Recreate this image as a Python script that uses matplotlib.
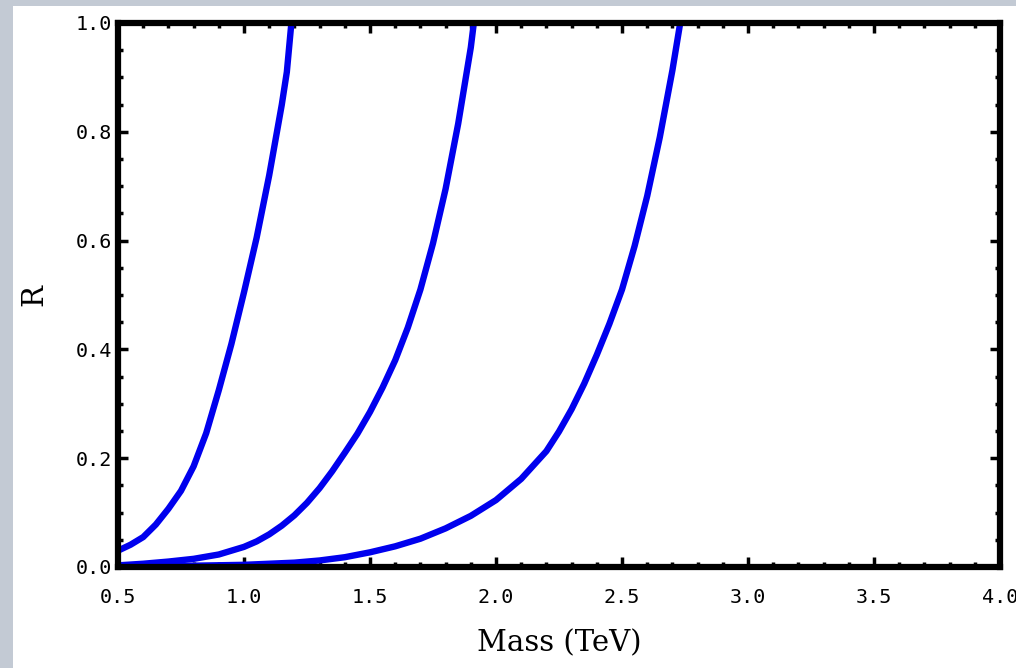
import numpy as np
import matplotlib.pyplot as plt
from matplotlib.patches import Rectangle
from matplotlib.ticker import MultipleLocator

# dados (massa em TeV, R)
m1 = [0.50, 0.55, 0.60, 0.65, 0.70, 0.75, 0.80, 0.85, 0.90, 0.95, 1.00,
      1.05, 1.10, 1.15, 1.17, 1.188]
r1 = [0.030, 0.041, 0.055, 0.078, 0.107, 0.140, 0.185, 0.246, 0.325, 0.410,
      0.505, 0.605, 0.720, 0.850, 0.910, 1.0]

m2 = [0.50, 0.60, 0.70, 0.80, 0.90, 1.00, 1.05, 1.10, 1.15, 1.20, 1.25, 1.30,
      1.35, 1.40, 1.45, 1.50, 1.55, 1.60, 1.65, 1.70, 1.75, 1.80, 1.85, 1.90,
      1.912]
r2 = [0.003, 0.006, 0.010, 0.015, 0.023, 0.037, 0.047, 0.060, 0.076, 0.095,
      0.118, 0.145, 0.176, 0.210, 0.245, 0.285, 0.330, 0.380, 0.440, 0.510,
      0.595, 0.695, 0.815, 0.955, 1.0]

m3 = [0.50, 0.75, 1.00, 1.20, 1.30, 1.40, 1.50, 1.60, 1.70, 1.80, 1.90, 2.00,
      2.10, 2.20, 2.25, 2.30, 2.35, 2.40, 2.45, 2.50, 2.55, 2.60, 2.65, 2.70,
      2.731]
r3 = [0.001, 0.002, 0.004, 0.008, 0.012, 0.018, 0.027, 0.038, 0.052, 0.071,
      0.094, 0.123, 0.162, 0.213, 0.249, 0.290, 0.337, 0.390, 0.447, 0.510,
      0.590, 0.682, 0.790, 0.913, 1.0]

xticks = [0.5, 1.0, 1.5, 2.0, 2.5, 3.0, 3.5, 4.0]
yticks = [0.0, 0.2, 0.4, 0.6, 0.8, 1.0]

fig = plt.figure(figsize=(10.16, 6.68), dpi=100, facecolor='#c3cad4')
# area branca do slide (atras dos eixos)
fig.add_artist(Rectangle((13/1016, 0), 1, 1 - 6/668, transform=fig.transFigure,
                         facecolor='white', edgecolor='none', zorder=-10))

ax = fig.add_axes([118/1016, 1 - 567/668, 882/1016, 544/668])
ax.set_facecolor('white')

for m, r in [(m1, r1), (m2, r2), (m3, r3)]:
    ax.plot(m, r, color='#0000ee', lw=4.6, solid_capstyle='butt',
            solid_joinstyle='round')

ax.set_xlim(0.5, 4.0)
ax.set_ylim(0.0, 1.0)
ax.set_xticks(xticks)
ax.set_yticks(yticks)
ax.xaxis.set_minor_locator(MultipleLocator(0.1))
ax.yaxis.set_minor_locator(MultipleLocator(0.05))

for s in ax.spines.values():
    s.set_linewidth(4.5)
    s.set_zorder(5)

ax.tick_params(which='both', direction='in', top=True, right=True, color='black')
ax.tick_params(which='major', length=7, width=2.5)
ax.tick_params(which='minor', length=3.5, width=2.5)
ax.tick_params(axis='x', which='major', pad=15)
ax.tick_params(axis='y', which='major', pad=4)

for lab in ax.get_xticklabels() + ax.get_yticklabels():
    lab.set_family('DejaVu Sans Mono')
    lab.set_fontsize(14.5)

ax.set_xlabel('Mass (TeV)', family='DejaVu Serif', fontsize=21, labelpad=16)
ax.set_ylabel('R', family='DejaVu Serif', fontsize=21, labelpad=20)

fig.savefig('out.png', dpi=100, facecolor=fig.get_facecolor())
